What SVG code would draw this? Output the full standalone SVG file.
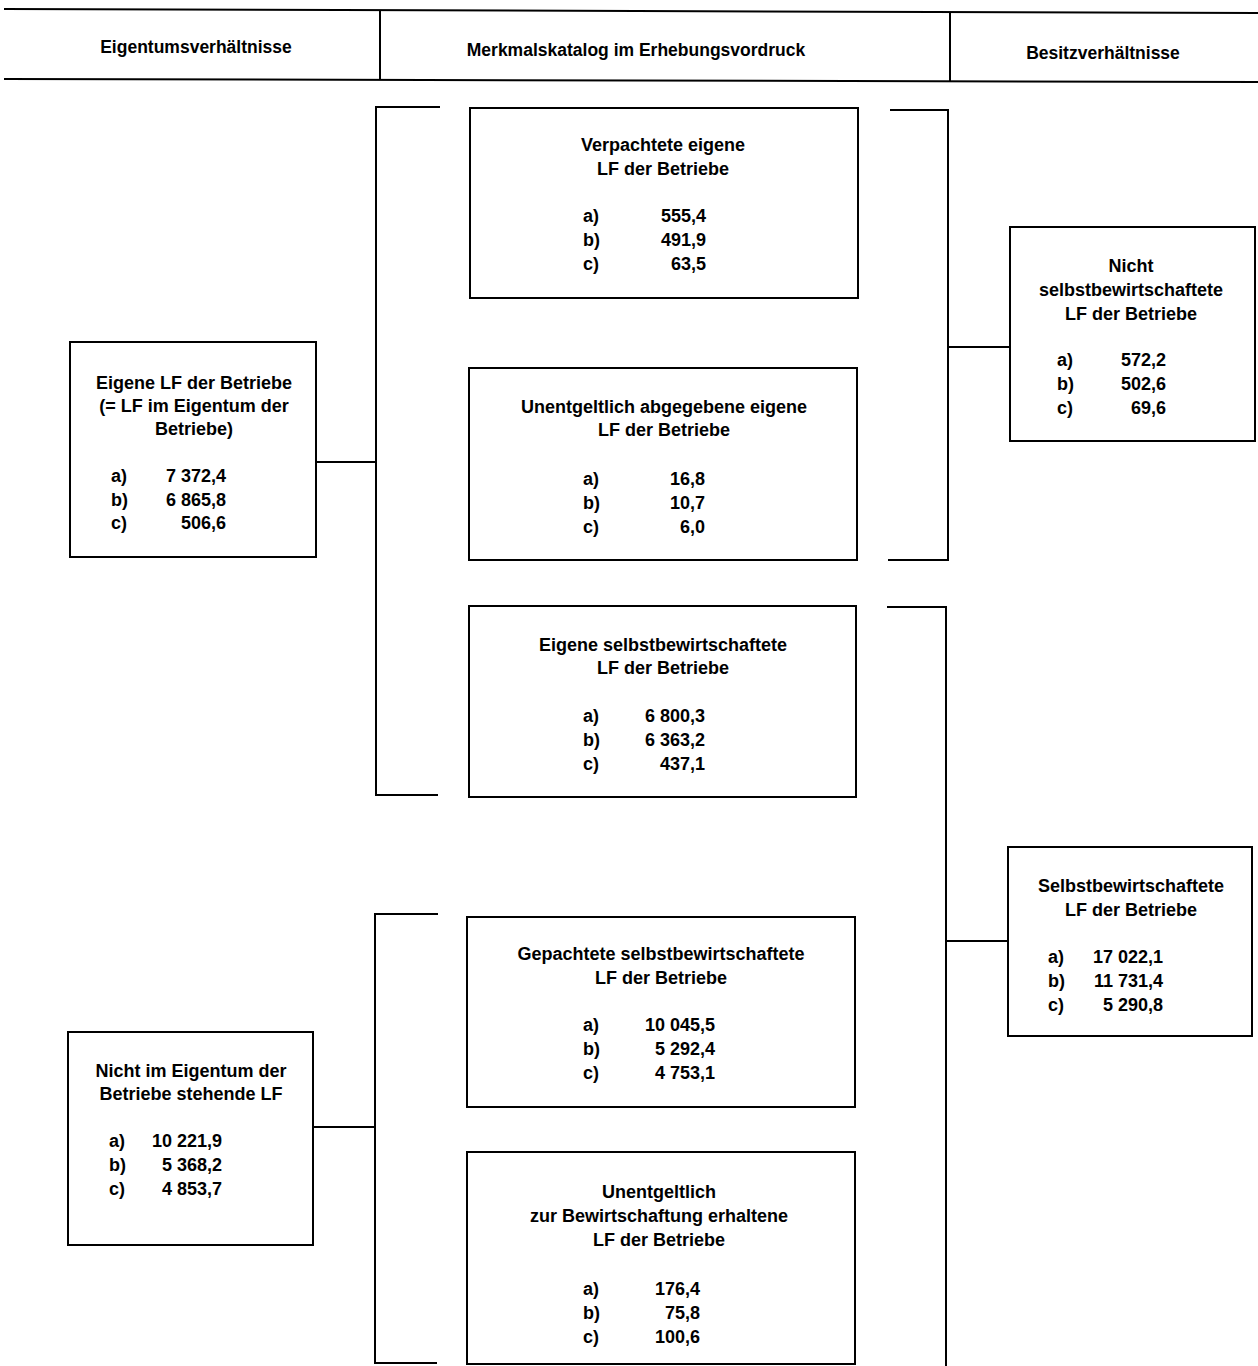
<svg xmlns="http://www.w3.org/2000/svg" width="1258" height="1366" viewBox="0 0 1258 1366">
<style>
text{font-family:"Liberation Sans",Arial,sans-serif;font-weight:bold;font-size:18px;fill:#000}
.c{text-anchor:middle}
.e{text-anchor:end}
.h{font-size:17.5px}
.box{fill:#fff;stroke:#000;stroke-width:2}
.ln{fill:none;stroke:#000;stroke-width:2}
</style>
<rect width="1258" height="1366" fill="#fff"/>
<g id="header">
<line class="ln" x1="4" y1="9" x2="1258" y2="13"/>
<line class="ln" x1="4" y1="79" x2="1258" y2="82"/>
<line class="ln" x1="380" y1="10" x2="380" y2="80"/>
<line class="ln" x1="950" y1="12" x2="950" y2="81"/>
<text class="c h" x="196" y="53">Eigentumsverhältnisse</text>
<text class="c h" x="636" y="56">Merkmalskatalog im Erhebungsvordruck</text>
<text class="c h" x="1103" y="59">Besitzverhältnisse</text>
</g>
<g id="connectors">
<polyline class="ln" points="440,107 376,107 376,795 438,795"/>
<line class="ln" x1="316" y1="462" x2="376" y2="462"/>
<polyline class="ln" points="438,914 375,914 375,1363 437,1363"/>
<line class="ln" x1="313" y1="1127" x2="375" y2="1127"/>
<polyline class="ln" points="890,110 948,110 948,560 888,560"/>
<line class="ln" x1="948" y1="347" x2="1010" y2="347"/>
<polyline class="ln" points="887,607 946,607 946,1366"/>
<line class="ln" x1="946" y1="941" x2="1008" y2="941"/>
</g>
<g id="n-verpachtete">
<rect class="box" x="470" y="108" width="388" height="190"/>
<text class="c" x="663" y="151">Verpachtete eigene</text>
<text class="c" x="663" y="175">LF der Betriebe</text>
<text x="583" y="222">a)</text><text class="e" x="706" y="222">555,4</text>
<text x="583" y="246">b)</text><text class="e" x="706" y="246">491,9</text>
<text x="583" y="270">c)</text><text class="e" x="706" y="270">63,5</text>
</g>
<g id="n-unentgeltlich-abgegeben">
<rect class="box" x="469" y="368" width="388" height="192"/>
<text class="c" x="664" y="413">Unentgeltlich abgegebene eigene</text>
<text class="c" x="664" y="436">LF der Betriebe</text>
<text x="583" y="485">a)</text><text class="e" x="705" y="485">16,8</text>
<text x="583" y="509">b)</text><text class="e" x="705" y="509">10,7</text>
<text x="583" y="533">c)</text><text class="e" x="705" y="533">6,0</text>
</g>
<g id="n-eigene-selbst">
<rect class="box" x="469" y="606" width="387" height="191"/>
<text class="c" x="663" y="651">Eigene selbstbewirtschaftete</text>
<text class="c" x="663" y="674">LF der Betriebe</text>
<text x="583" y="722">a)</text><text class="e" x="705" y="722">6 800,3</text>
<text x="583" y="746">b)</text><text class="e" x="705" y="746">6 363,2</text>
<text x="583" y="770">c)</text><text class="e" x="705" y="770">437,1</text>
</g>
<g id="n-gepachtete">
<rect class="box" x="467" y="917" width="388" height="190"/>
<text class="c" x="661" y="960">Gepachtete selbstbewirtschaftete</text>
<text class="c" x="661" y="984">LF der Betriebe</text>
<text x="583" y="1031">a)</text><text class="e" x="715" y="1031">10 045,5</text>
<text x="583" y="1055">b)</text><text class="e" x="715" y="1055">5 292,4</text>
<text x="583" y="1079">c)</text><text class="e" x="715" y="1079">4 753,1</text>
</g>
<g id="n-unentgeltlich-erhalten">
<rect class="box" x="467" y="1152" width="388" height="212"/>
<text class="c" x="659" y="1198">Unentgeltlich</text>
<text class="c" x="659" y="1222">zur Bewirtschaftung erhaltene</text>
<text class="c" x="659" y="1246">LF der Betriebe</text>
<text x="583" y="1295">a)</text><text class="e" x="700" y="1295">176,4</text>
<text x="583" y="1319">b)</text><text class="e" x="700" y="1319">75,8</text>
<text x="583" y="1343">c)</text><text class="e" x="700" y="1343">100,6</text>
</g>
<g id="n-eigene-lf">
<rect class="box" x="70" y="342" width="246" height="215"/>
<text class="c" x="194" y="389">Eigene LF der Betriebe</text>
<text class="c" x="194" y="412">(= LF im Eigentum der</text>
<text class="c" x="194" y="435">Betriebe)</text>
<text x="111" y="482">a)</text><text class="e" x="226" y="482">7 372,4</text>
<text x="111" y="506">b)</text><text class="e" x="226" y="506">6 865,8</text>
<text x="111" y="529">c)</text><text class="e" x="226" y="529">506,6</text>
</g>
<g id="n-nicht-eigentum">
<rect class="box" x="68" y="1032" width="245" height="213"/>
<text class="c" x="191" y="1077">Nicht im Eigentum der</text>
<text class="c" x="191" y="1100">Betriebe stehende LF</text>
<text x="109" y="1147">a)</text><text class="e" x="222" y="1147">10 221,9</text>
<text x="109" y="1171">b)</text><text class="e" x="222" y="1171">5 368,2</text>
<text x="109" y="1195">c)</text><text class="e" x="222" y="1195">4 853,7</text>
</g>
<g id="n-nicht-selbst">
<rect class="box" x="1010" y="227" width="245" height="214"/>
<text class="c" x="1131" y="272">Nicht</text>
<text class="c" x="1131" y="296">selbstbewirtschaftete</text>
<text class="c" x="1131" y="320">LF der Betriebe</text>
<text x="1057" y="366">a)</text><text class="e" x="1166" y="366">572,2</text>
<text x="1057" y="390">b)</text><text class="e" x="1166" y="390">502,6</text>
<text x="1057" y="414">c)</text><text class="e" x="1166" y="414">69,6</text>
</g>
<g id="n-selbst">
<rect class="box" x="1008" y="847" width="244" height="189"/>
<text class="c" x="1131" y="892">Selbstbewirtschaftete</text>
<text class="c" x="1131" y="916">LF der Betriebe</text>
<text x="1048" y="963">a)</text><text class="e" x="1163" y="963">17 022,1</text>
<text x="1048" y="987">b)</text><text class="e" x="1163" y="987">11 731,4</text>
<text x="1048" y="1011">c)</text><text class="e" x="1163" y="1011">5 290,8</text>
</g>
</svg>
